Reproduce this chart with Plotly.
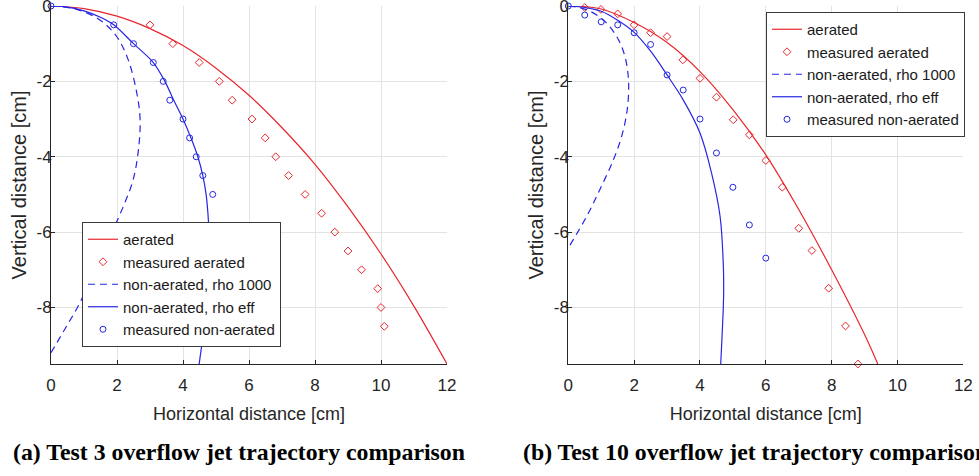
import plotly.graph_objects as go

# ---------------- data ----------------
# Test 3 (left panel)
a_aer_x = [0, 1, 2, 3, 4, 5, 6, 7, 8, 9, 10, 11, 12]
a_aer_y = [0, -0.07, -0.27, -0.6, -1.05, -1.65, -2.37, -3.23, -4.2, -5.33, -6.58, -7.97, -9.5]

a_meas_aer_x = [3.0, 3.69, 4.49, 5.1, 5.49, 6.09, 6.49, 6.81, 7.2, 7.7, 8.2, 8.6, 9.0, 9.41, 9.9, 10.0, 10.1]
a_meas_aer_y = [-0.5, -1.0, -1.5, -2.0, -2.5, -3.0, -3.5, -4.0, -4.5, -5.0, -5.5, -6.0, -6.5, -7.0, -7.5, -8.0, -8.5]

a_na1000_x = [0, 0.78, 1.48, 1.99, 2.34, 2.6, 2.7, 2.65, 2.49, 2.19, 1.85, 1.6, 1.33, 1.08, 0.8, 0.47, 0.0]
a_na1000_y = [0, -0.09, -0.37, -0.81, -1.43, -2.31, -3.02, -3.81, -4.61, -5.32, -6.0, -6.5, -7.0, -7.5, -8.0, -8.5, -9.2]

a_naeff_x = [0, 0.5, 1.0, 1.5, 1.9, 2.5, 3.1, 3.45, 3.72, 4.0, 4.24, 4.45, 4.6, 4.7, 4.77, 4.8, 4.78, 4.7, 4.57, 4.49]
a_naeff_y = [0, -0.03, -0.13, -0.3, -0.5, -1.0, -1.5, -2.0, -2.5, -3.0, -3.5, -4.0, -4.5, -5.0, -5.7, -6.5, -7.5, -8.3, -9.0, -9.5]

a_meas_na_x = [0, 1.9, 2.5, 3.1, 3.4, 3.6, 4.0, 4.2, 4.4, 4.6, 4.9]
a_meas_na_y = [0, -0.5, -1.0, -1.5, -2.0, -2.5, -3.0, -3.5, -4.0, -4.5, -5.0]

# Test 10 (right panel)
b_aer_x = [0, 1, 2, 3, 4, 5, 6, 7, 8, 9, 9.4]
b_aer_y = [0, -0.08, -0.44, -0.97, -1.74, -2.75, -3.95, -5.4, -7.0, -8.72, -9.5]

b_meas_aer_x = [0.5, 0.99, 1.5, 2.0, 2.5, 3.0, 3.48, 4.0, 4.5, 5.01, 5.5, 6.0, 6.5, 7.0, 7.4, 7.91, 8.42, 8.8]
b_meas_aer_y = [-0.04, -0.09, -0.21, -0.5, -0.71, -0.81, -1.43, -1.92, -2.42, -3.02, -3.42, -4.1, -4.81, -5.9, -6.49, -7.49, -8.49, -9.5]

b_na1000_x = [0, 0.56, 1.06, 1.47, 1.72, 1.83, 1.79, 1.62, 1.37, 0.96, 0.56, 0.0]
b_na1000_y = [0, -0.1, -0.37, -0.81, -1.34, -2.0, -2.75, -3.46, -4.08, -4.87, -5.58, -6.42]

b_naeff_x = [0, 0.5, 1.0, 1.5, 2.0, 2.5, 3.0, 3.49, 4.0, 4.35, 4.61, 4.71, 4.72, 4.71, 4.63]
b_naeff_y = [0, -0.04, -0.14, -0.38, -0.7, -1.2, -1.83, -2.49, -3.37, -4.43, -5.58, -6.9, -7.5, -7.96, -9.5]

b_meas_na_x = [0, 0.5, 1.0, 1.5, 2.0, 2.5, 3.0, 3.49, 4.0, 4.5, 5.0, 5.5, 6.0]
b_meas_na_y = [0, -0.24, -0.42, -0.5, -0.71, -1.02, -1.83, -2.23, -3.0, -3.9, -4.81, -5.81, -6.69]

x_ticks = [0, 2, 4, 6, 8, 10, 12]
x_tick_text = ["0", "2", "4", "6", "8", "10", "12"]
y_ticks = [0, -2, -4, -6, -8]
y_tick_text = ["0", "-2", "-4", "-6", "-8"]

names = ["aerated", "measured aerated", "non-aerated, rho 1000",
         "non-aerated, rho eff", "measured non-aerated"]
captions = ["(a) Test 3 overflow jet trajectory comparison",
            "(b) Test 10 overflow jet trajectory comparison"]

# ---------------- styling ----------------
RED = "rgb(232,38,44)"
BLUE = "rgb(38,38,228)"
AX = "#262626"
GRID = "#e3e3e3"
FONT = "Liberation Sans"

fig = go.Figure()

panels = [
    dict(xa="x", ya="y", lg="legend",
         data=[(a_aer_x, a_aer_y), (a_meas_aer_x, a_meas_aer_y), (a_na1000_x, a_na1000_y),
               (a_naeff_x, a_naeff_y), (a_meas_na_x, a_meas_na_y)]),
    dict(xa="x2", ya="y2", lg="legend2",
         data=[(b_aer_x, b_aer_y), (b_meas_aer_x, b_meas_aer_y), (b_na1000_x, b_na1000_y),
               (b_naeff_x, b_naeff_y), (b_meas_na_x, b_meas_na_y)]),
]

for p in panels:
    d = p["data"]
    common = dict(xaxis=p["xa"], yaxis=p["ya"], legend=p["lg"], cliponaxis=False)
    fig.add_trace(go.Scatter(x=d[0][0], y=d[0][1], mode="lines", name=names[0],
                             line=dict(color=RED, width=1.2, shape="spline"), **common))
    fig.add_trace(go.Scatter(x=d[1][0], y=d[1][1], mode="markers", name=names[1],
                             marker=dict(symbol="diamond-open", size=6, color=RED,
                                         line=dict(color=RED, width=1)), **common))
    fig.add_trace(go.Scatter(x=d[2][0], y=d[2][1], mode="lines", name=names[2],
                             line=dict(color=BLUE, width=1.2, dash="7px,5px", shape="spline"),
                             **common))
    fig.add_trace(go.Scatter(x=d[3][0], y=d[3][1], mode="lines", name=names[3],
                             line=dict(color=BLUE, width=1.2, shape="spline"), **common))
    fig.add_trace(go.Scatter(x=d[4][0], y=d[4][1], mode="markers", name=names[4],
                             marker=dict(symbol="circle-open", size=6, color=BLUE,
                                         line=dict(color=BLUE, width=1)), **common))

xax = dict(range=[0, 12], tickvals=x_ticks, ticktext=x_tick_text, automargin=False,
           showgrid=True, gridcolor=GRID, gridwidth=1, zeroline=False,
           showline=True, linecolor=AX, linewidth=1,
           ticks="inside", ticklen=4, tickcolor=AX, ticklabeloverflow="allow",
           tickfont=dict(family=FONT, size=17, color=AX), ticklabelstandoff=6,
           title=dict(text="Horizontal distance [cm]", standoff=13,
                      font=dict(family=FONT, size=18, color=AX)))
yax = dict(range=[-9.5, 0], tickvals=y_ticks, ticktext=y_tick_text, automargin=False,
           showgrid=True, gridcolor=GRID, gridwidth=1, zeroline=False,
           showline=True, linecolor=AX, linewidth=1,
           ticks="inside", ticklen=4, tickcolor=AX, ticklabeloverflow="allow",
           tickfont=dict(family=FONT, size=17, color=AX), ticklabelstandoff=-5,
           title=dict(text="Vertical distance [cm]", standoff=4,
                      font=dict(family=FONT, size=20, color=AX)))

legend_style = dict(xanchor="left", yanchor="top", bgcolor="white",
                    bordercolor="#3a3a3a", borderwidth=1, itemwidth=30,
                    font=dict(family=FONT, size=15, color="#1a1a1a"))

fig.update_layout(
    width=979, height=476,
    margin=dict(l=0, r=0, t=0, b=0, autoexpand=False),
    paper_bgcolor="white", plot_bgcolor="white",
    xaxis=dict(domain=[0.0521, 0.4566], anchor="y", **xax),
    yaxis=dict(domain=[0.2353, 0.9874], anchor="x", **yax),
    xaxis2=dict(domain=[0.5805, 0.9840], anchor="y2", **xax),
    yaxis2=dict(domain=[0.2353, 0.9874], anchor="x2", **yax),
    legend=dict(x=82 / 979, y=1 - 222 / 476, **legend_style),
    legend2=dict(x=766 / 979, y=1 - 12 / 476, **legend_style),
    annotations=[
        dict(text="<b>" + captions[0] + "</b>", xref="paper", yref="paper",
             x=11 / 979, y=1 - 452 / 476, xanchor="left", yanchor="middle",
             showarrow=False, font=dict(family="Liberation Serif", size=23.8, color="black")),
        dict(text="<b>" + captions[1] + "</b>", xref="paper", yref="paper",
             x=521 / 979, y=1 - 452 / 476, xanchor="left", yanchor="middle",
             showarrow=False, font=dict(family="Liberation Serif", size=23.8, color="black")),
    ],
)

fig.write_html("out.html", config={"displayModeBar": False},
               post_script="document.body.style.margin='0';document.body.style.padding='0';")
